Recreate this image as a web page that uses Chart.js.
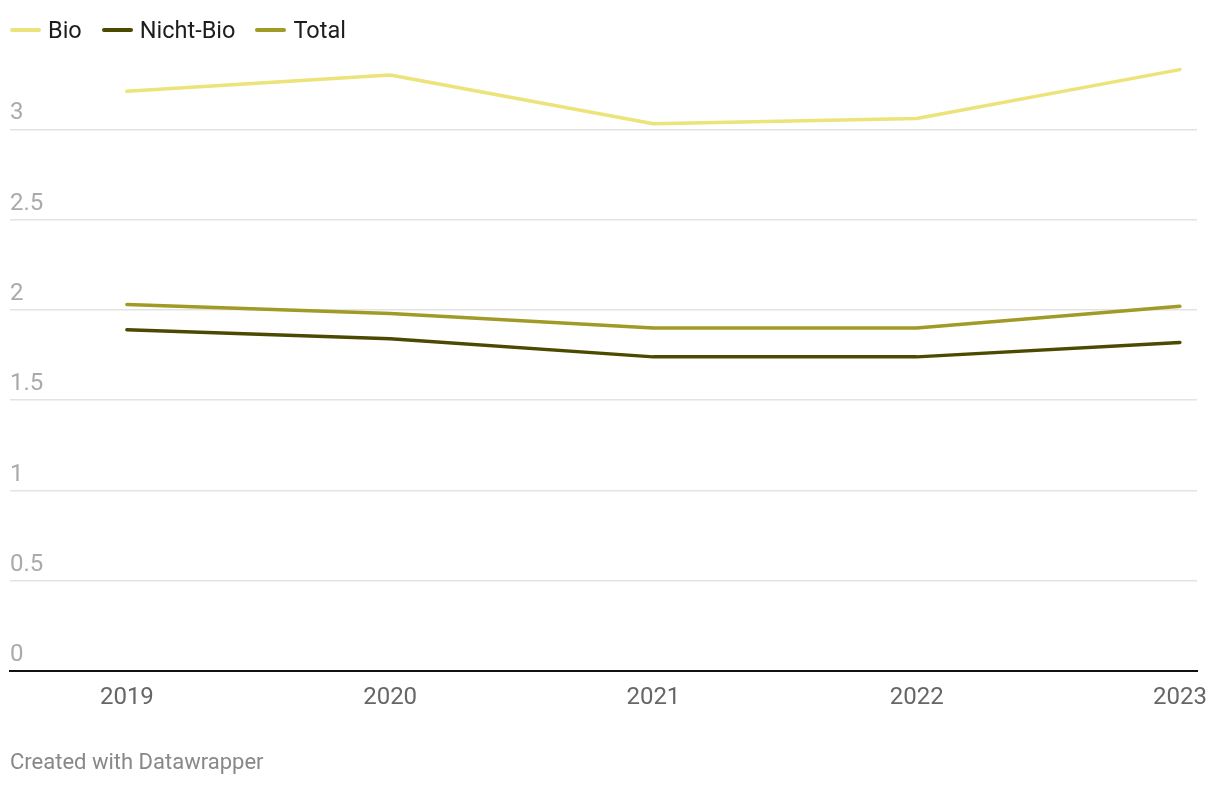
<!DOCTYPE html>
<html>
<head>
<meta charset="utf-8">
<script src="https://cdn.jsdelivr.net/npm/chart.js@4"></script>
<style>
  body { margin: 0; background: #fff; font-family: Roboto, "Noto Sans", sans-serif; }
  #wrap { position: relative; width: 1220px; height: 786px; }
  #chart { position: absolute; left: 0; top: 0; }
  .legend { position: absolute; top: 16px; left: 10px; display: flex; font-size: 23.5px; color: #1d1d1d; }
  .legend span { display: flex; align-items: center; margin-right: 20px; }
  .legend i { display: inline-block; width: 31px; height: 4px; border-radius: 2px; margin-right: 7px; }
  .footer { position: absolute; left: 10px; top: 749px; font-size: 22px; color: #888; }
</style>
</head>
<body>
<div id="wrap">
  <canvas id="chart" width="1220" height="786"></canvas>
  <div class="legend" id="legend"></div>
  <div class="footer">Created with Datawrapper</div>
</div>
<script>
var years = [2019, 2020, 2021, 2022, 2023];
var bio = [3.21, 3.3, 3.03, 3.06, 3.33];
var nichtBio = [1.89, 1.84, 1.74, 1.74, 1.82];
var total = [2.03, 1.98, 1.9, 1.9, 2.02];
var yTicks = [0, 0.5, 1, 1.5, 2, 2.5, 3];

var seriesNames = ['Bio', 'Nicht-Bio', 'Total'];
var seriesColors = ['#ece37a', '#4b4a00', '#a09a26'];
var seriesValues = [bio, nichtBio, total];

function points(values) {
    return years.map(function (y, i) { return { x: y, y: values[i] }; });
}

// legend
var legend = document.getElementById('legend');
seriesNames.forEach(function (name, i) {
    var s = document.createElement('span');
    s.innerHTML = '<i style="background:' + seriesColors[i] + '"></i>' + name;
    legend.appendChild(s);
});

var datasets = seriesNames.map(function (name, i) {
    return {
        label: name,
        data: points(seriesValues[i]),
        borderColor: seriesColors[i],
        borderWidth: 3.5,
        borderCapStyle: 'round',
        borderJoinStyle: 'round',
        pointRadius: 0,
        tension: 0,
        fill: false
    };
});

var ctx = document.getElementById('chart').getContext('2d');
var chart = new Chart(ctx, {
    type: 'line',
    data: { datasets: datasets },
    options: {
        responsive: false,
        animation: false,
        layout: { padding: { left: 10, right: 23, top: 57, bottom: 62 } },
        plugins: {
            legend: { display: false },
            tooltip: { enabled: false }
        },
        scales: {
            x: {
                type: 'linear',
                min: 2018.556,
                max: 2023.065,
                afterBuildTicks: function (scale) {
                    scale.ticks = years.map(function (v) { return { value: v }; });
                },
                grid: { display: false, drawTicks: false },
                border: { display: true, color: '#111', width: 2 },
                ticks: {
                    padding: 12,
                    maxRotation: 0,
                    autoSkip: false,
                    color: '#666',
                    font: { family: 'Roboto', size: 24 },
                    callback: function (v) { return String(v); }
                }
            },
            y: {
                min: 0,
                max: 3.4,
                afterBuildTicks: function (scale) {
                    scale.ticks = yTicks.map(function (v) { return { value: v }; });
                },
                grid: { color: '#e3e3e3', lineWidth: 1.5, drawTicks: false },
                border: { display: false },
                ticks: {
                    mirror: true,
                    padding: 0,
                    labelOffset: -16,
                    color: '#aaa',
                    font: { family: 'Roboto', size: 24 },
                    callback: function (v) { return String(v); }
                }
            }
        }
    }
});
</script>
</body>
</html>
